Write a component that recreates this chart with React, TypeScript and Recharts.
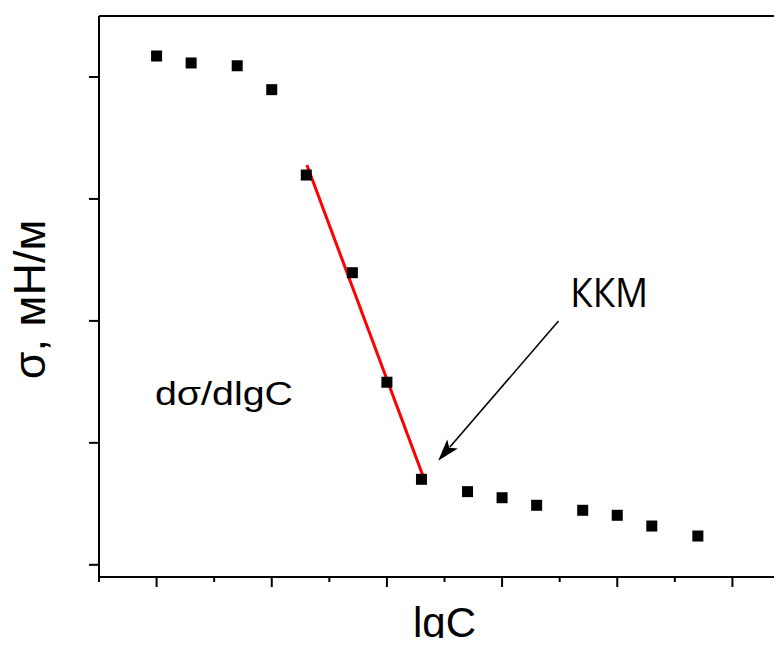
import React from "react";
import {
  ComposedChart,
  Scatter,
  Line,
  XAxis,
  YAxis,
  ReferenceLine,
  ReferenceDot,
} from "recharts";

// lgC (arbitrary units) and surface tension σ, mN/m
const lgC = [1, 1.6, 2.4, 3, 3.6, 4.4, 5, 5.6, 6.4, 7, 7.6, 8.4, 9, 9.6, 10.4];
const sigma = [71.72, 71.15, 70.92, 68.96, 61.96, 53.95, 44.97, 37.01, 36.0, 35.5, 34.88, 34.47, 34.06, 33.18, 32.36];

// red fit line through the steep part
const fitX = [3.61, 5.62];
const fitY = [62.78, 37.36];

// arrow pointing at the CMC
const arrowX = [7.98, 5.89];
const arrowY = [49.99, 38.54];

const xTicks = [0, 1, 2, 3, 4, 5, 6, 7, 8, 9, 10, 11, 12];
const yTicks = [30, 40, 50, 60, 70];

const points = lgC.map((x, i) => ({ x, y: sigma[i] }));
const fit = fitX.map((x, i) => ({ x, y: fitY[i] }));

const FONT = "'Liberation Sans', Arial, sans-serif";

const Square = (p: any) => (
  <rect x={p.cx - 5.5} y={p.cy - 5.5} width={11} height={11} fill="#000" />
);

const XTick = (p: any) => {
  const major = p.payload.value % 2 === 1;
  return (
    <line x1={p.x} y1={p.y} x2={p.x} y2={p.y + (major ? 10 : 5)} stroke="#000" strokeWidth={2} />
  );
};

const NoLabel = () => <g />;

const Arrow = (p: any) => {
  const { x1, y1, x2, y2 } = p;
  const dx = x2 - x1;
  const dy = y2 - y1;
  const len = Math.sqrt(dx * dx + dy * dy);
  const ux = dx / len;
  const uy = dy / len;
  const head = 22;
  const half = 7;
  const bx = x2 - ux * head;
  const by = y2 - uy * head;
  return (
    <g>
      <line x1={x1} y1={y1} x2={bx + ux * 4} y2={by + uy * 4} stroke="#000" strokeWidth={1.6} />
      <polygon
        points={`${x2},${y2} ${bx - uy * half},${by + ux * half} ${bx + ux * 5},${by + uy * 5} ${bx + uy * half},${by - ux * half}`}
        fill="#000"
      />
    </g>
  );
};

const XLabel = ({ viewBox }: any) => (
  <text
    x={viewBox.x + viewBox.width / 2}
    y={viewBox.y + 59.7}
    textAnchor="middle"
    fontFamily={FONT}
    fontSize={42}
    fill="#000"
  >
    lgC
  </text>
);

const YLabel = ({ viewBox }: any) => {
  const cx = 37;
  const cy = viewBox.y + viewBox.height / 2 + 3;
  return (
    <text
      x={cx}
      y={cy}
      transform={`rotate(-90 ${cx} ${cy})`}
      textAnchor="middle"
      fontFamily={FONT}
      fontSize={45}
      fill="#000"
    >
      σ, мН/м
    </text>
  );
};

const TextAt = (text: string, size: number, family: string, length?: number) =>
  ({ viewBox }: any) => (
    <text
      x={viewBox.x}
      y={viewBox.y}
      textAnchor="middle"
      fontFamily={family}
      fontSize={size}
      fill="#000"
      textLength={length}
      lengthAdjust={length ? "spacingAndGlyphs" : undefined}
    >
      {text}
    </text>
  );

export default function App() {
  return (
    <div style={{ width: 774, height: 638, overflow: "hidden", marginBottom: -8 }}>
      <ComposedChart width={782} height={638} margin={{ top: 8, right: 0, left: 0, bottom: 0 }}>
        <XAxis
          type="number"
          dataKey="x"
          domain={[0, 12]}
          ticks={xTicks}
          interval={0}
          allowDataOverflow
          height={69}
          axisLine={{ stroke: "#000", strokeWidth: 2 }}
          tickLine={false}
          tickSize={0}
          tickMargin={0}
          tick={XTick}
          label={<XLabel />}
        />
        <YAxis
          type="number"
          dataKey="y"
          domain={[29, 75]}
          ticks={yTicks}
          interval={0}
          allowDataOverflow
          width={91}
          axisLine={{ stroke: "#000", strokeWidth: 2 }}
          tickLine={{ stroke: "#000", strokeWidth: 2 }}
          tickSize={10}
          tick={NoLabel}
          label={<YLabel />}
        />
        <ReferenceLine y={75} stroke="#000" strokeWidth={2} ifOverflow="visible" />
        <Line
          data={fit}
          dataKey="y"
          type="linear"
          stroke="#ff0000"
          strokeWidth={3}
          dot={false}
          isAnimationActive={false}
        />
        <Scatter data={points} dataKey="y" shape={Square} isAnimationActive={false} />
        <ReferenceLine
          segment={[
            { x: arrowX[0], y: arrowY[0] },
            { x: arrowX[1], y: arrowY[1] },
          ]}
          shape={Arrow}
          ifOverflow="visible"
        />
        <ReferenceDot
          x={8.86}
          y={51.16}
          r={0}
          fill="none"
          stroke="none"
          label={TextAt("ККМ", 40, "'Open Sans', 'Noto Sans', sans-serif", 78)}
        />
        <ReferenceDot
          x={2.17}
          y={43.1}
          r={0}
          fill="none"
          stroke="none"
          label={TextAt("dσ/dlgC", 33, FONT, 138)}
        />
      </ComposedChart>
    </div>
  );
}
